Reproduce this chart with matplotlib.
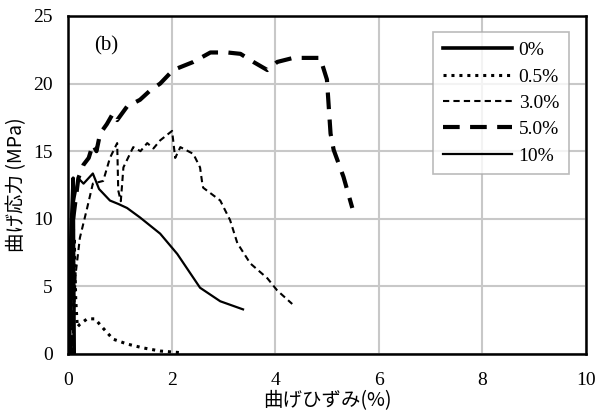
import matplotlib.pyplot as plt

# strain (%) / stress (MPa)
x_0 = [0.0, 0.05, 0.10, 0.11, 0.12]
y_0 = [0.0, 8.0, 13.0, 6.0, 0.0]

x_05 = [0.06, 0.10, 0.12, 0.15, 0.18, 0.23, 0.37, 0.52, 0.68, 0.87, 1.14, 1.45, 1.78, 2.17]
y_05 = [0.0, 5.0, 8.6, 4.0, 2.0, 2.2, 2.6, 2.6, 1.9, 1.1, 0.74, 0.45, 0.22, 0.1]

x_30 = [0.08, 0.15, 0.23, 0.37, 0.48, 0.68, 0.81, 0.95, 0.97, 1.02, 1.07, 1.26, 1.40, 1.53,
        1.65, 1.78, 2.01, 2.07, 2.17, 2.42, 2.55, 2.59, 2.61, 2.94, 3.13, 3.27, 3.52, 3.85, 4.04, 4.33]
y_30 = [0.0, 6.0, 8.6, 10.8, 12.6, 12.8, 14.5, 15.6, 12.1, 11.3, 13.8, 15.3, 15.0, 15.6,
        15.2, 15.8, 16.5, 14.5, 15.3, 14.8, 13.8, 12.7, 12.3, 11.35, 9.9, 8.2, 6.7, 5.6, 4.7, 3.7]

x_50 = [0.05, 0.10, 0.20, 0.30, 0.40, 0.48, 0.55, 0.62, 0.75, 0.87, 0.95, 1.14, 1.39, 1.59, 1.78,
        2.03, 2.42, 2.75, 3.08, 3.33, 3.58, 3.85, 4.04, 4.35, 4.87, 5.0, 5.07, 5.13, 5.32, 5.49]
y_50 = [0.0, 10.0, 13.0, 14.0, 14.5, 15.5, 15.0, 16.3, 17.0, 17.8, 17.3, 18.3, 18.8, 19.5, 20.0,
        21.0, 21.6, 22.3, 22.3, 22.2, 21.6, 21.0, 21.6, 21.9, 21.9, 20.3, 16.3, 15.1, 13.1, 10.8]

x_10 = [0.04, 0.10, 0.20, 0.30, 0.48, 0.60, 0.81, 0.97, 1.14, 1.39, 1.78, 2.11, 2.55, 2.94, 3.38]
y_10 = [0.0, 11.0, 13.0, 12.6, 13.35, 12.2, 11.35, 11.1, 10.8, 10.1, 8.9, 7.4, 4.9, 3.9, 3.3]

plt.rcParams['font.family'] = ['Liberation Serif', 'Noto Sans CJK JP']

fig = plt.figure(figsize=(5.98, 4.15), dpi=100)
ax = fig.add_axes([0.1137, 0.147, 0.866, 0.8145])

ax.plot(x_0, y_0, color='black', lw=2.6, label='0%')
ax.plot(x_05, y_05, color='black', lw=2.2, linestyle=(0, (1, 1.6)), label='0.5%')
ax.plot(x_30, y_30, color='black', lw=1.5, linestyle=(0, (3, 2)), label='3.0%')
ax.plot(x_50, y_50, color='black', lw=3, linestyle=(0, (4, 2.5)), label='5.0%')
ax.plot(x_10, y_10, color='black', lw=1.6, label='10%')

ax.set_xlim(0, 10)
ax.set_ylim(0, 25)
ax.set_xticks([0, 2, 4, 6, 8, 10])
ax.set_yticks([0, 5, 10, 15, 20, 25])
ax.grid(True, color='#c8c8c8', lw=1.5)
ax.set_axisbelow(True)
ax.tick_params(length=0, labelsize=14)
ax.tick_params(axis='x', pad=13)
ax.tick_params(axis='y', pad=11)
for s in ax.spines.values():
    s.set_linewidth(1.8)

ax.set_xlabel('曲げひずみ(%)', fontsize=14, family=['Noto Sans CJK JP'], labelpad=1)
ax.set_ylabel('曲げ応力 (MPa)', fontsize=14, family=['Noto Sans CJK JP'], labelpad=4)

ax.text(0.5, 22.8, '(b)', fontsize=15, va='center')

leg = ax.legend(loc='upper right', bbox_to_anchor=(0.967, 0.953), borderaxespad=0,
                fontsize=14, handlelength=3.55, frameon=True, fancybox=False,
                edgecolor='#aaaaaa', borderpad=0.5, labelspacing=0.45, handletextpad=0.35)
leg.get_frame().set_linewidth(1.2)

fig.savefig('out.png', dpi=100)
